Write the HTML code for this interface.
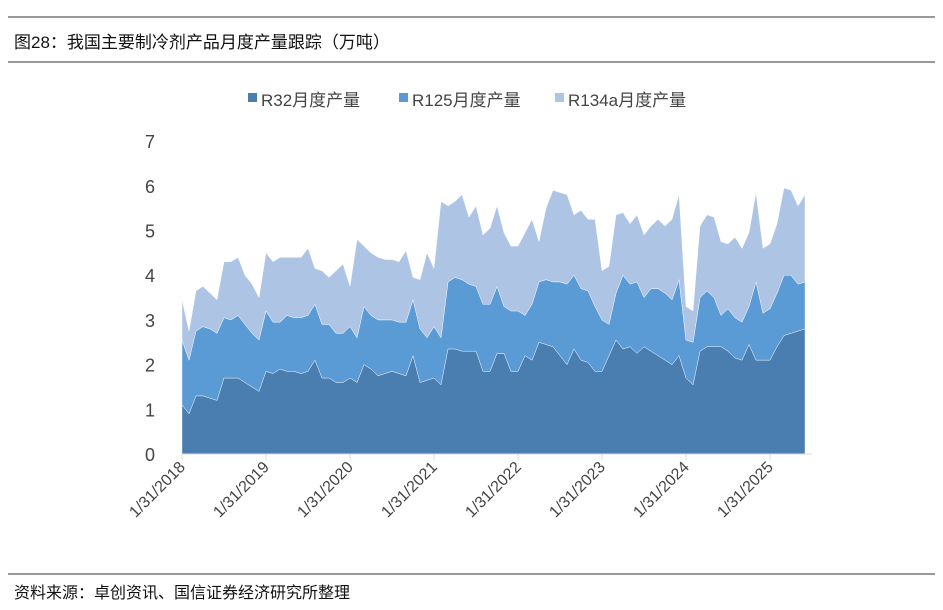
<!DOCTYPE html>
<html><head><meta charset="utf-8">
<style>
body{margin:0;background:#fff;font-family:"Liberation Sans","Noto Sans CJK SC",sans-serif;}
#wrap{position:relative;width:943px;height:610px;overflow:hidden;}
</style></head>
<body>
<div id="wrap">
<svg id="svg" width="943" height="610" xmlns="http://www.w3.org/2000/svg">
  <line x1="8" y1="17" x2="935" y2="17" stroke="#333" stroke-width="1"/>
  <text x="14" y="48" font-size="17" fill="#111" font-family="Liberation Sans, Noto Sans CJK SC, sans-serif">图28：我国主要制冷剂产品月度产量跟踪（万吨）</text>
  <line x1="8" y1="62" x2="935" y2="62" stroke="#333" stroke-width="1"/>
  <line x1="8" y1="574" x2="935" y2="574" stroke="#333" stroke-width="1"/>
  <text x="14" y="598" font-size="16" fill="#111" font-family="Liberation Sans, Noto Sans CJK SC, sans-serif">资料来源：卓创资讯、国信证券经济研究所整理</text>
  <g id="legend"></g>
  <g id="plot"></g>
</svg>
</div>
<script>
const seriesNames=["R32月度产量","R125月度产量","R134a月度产量"];
const colors=["#4a7db0","#5b9bd5","#adc4e4"];
const yTicks=[0,1,2,3,4,5,6,7];
const xTickLabels=["1/31/2018","1/31/2019","1/31/2020","1/31/2021","1/31/2022","1/31/2023","1/31/2024","1/31/2025"];
const r32=[1.1,0.9,1.3,1.3,1.25,1.2,1.7,1.7,1.7,1.6,1.5,1.4,
1.85,1.8,1.9,1.85,1.85,1.8,1.85,2.1,1.7,1.7,1.6,1.6,
1.7,1.6,2.0,1.9,1.75,1.8,1.85,1.8,1.75,2.2,1.6,1.65,
1.7,1.55,2.35,2.35,2.3,2.3,2.3,1.85,1.85,2.25,2.25,1.85,
1.85,2.2,2.1,2.5,2.45,2.4,2.2,2.0,2.35,2.1,2.05,1.85,
1.85,2.2,2.55,2.35,2.4,2.25,2.4,2.3,2.2,2.1,2.0,2.2,
1.7,1.55,2.3,2.4,2.4,2.4,2.3,2.15,2.1,2.45,2.1,2.1,
2.1,2.4,2.65,2.7,2.75,2.8];
const r125=[1.45,1.2,1.45,1.55,1.55,1.5,1.35,1.3,1.4,1.3,1.2,1.15,
1.35,1.15,1.05,1.25,1.2,1.25,1.25,1.25,1.2,1.2,1.1,1.1,
1.15,1.0,1.3,1.2,1.25,1.2,1.15,1.15,1.2,1.25,1.2,0.95,
1.15,1.05,1.5,1.6,1.6,1.5,1.45,1.5,1.5,1.5,1.05,1.35,
1.35,0.9,1.25,1.35,1.45,1.45,1.65,1.8,1.65,1.6,1.6,1.45,
1.15,0.7,1.05,1.65,1.4,1.6,1.1,1.4,1.5,1.5,1.45,1.7,
0.85,0.95,1.2,1.25,1.1,0.7,0.95,0.9,0.85,0.85,1.75,1.05,
1.15,1.2,1.35,1.3,1.05,1.05];
const r134a=[0.9,0.65,0.9,0.9,0.8,0.75,1.25,1.3,1.3,1.1,1.1,0.95,
1.3,1.35,1.45,1.3,1.35,1.35,1.5,0.8,1.2,1.05,1.4,1.55,
0.9,2.2,1.35,1.4,1.4,1.35,1.35,1.35,1.6,0.5,1.1,1.9,
1.3,3.05,1.7,1.7,1.9,1.5,1.8,1.55,1.7,1.8,1.65,1.45,
1.45,1.85,1.9,0.9,1.6,2.05,2.0,2.0,1.35,1.75,1.6,1.95,
1.1,1.3,1.75,1.4,1.35,1.5,1.4,1.4,1.55,1.5,1.8,1.9,
0.75,0.7,1.6,1.7,1.8,1.65,1.45,1.8,1.65,1.65,2.0,1.45,
1.45,1.55,1.95,1.9,1.75,1.95];

const NS="http://www.w3.org/2000/svg";
const x0=182,monthW=7.0,y0=454,unit=44.7;
const xs=i=>x0+i*monthW;
const ys=v=>y0-v*unit;
const plot=document.getElementById('plot');
const legend=document.getElementById('legend');
function mk(tag,attrs,parent){const e=document.createElementNS(NS,tag);for(const k in attrs)e.setAttribute(k,attrs[k]);parent.appendChild(e);return e;}

const series=[r32,r125,r134a];
const n=r32.length;
let base=new Array(n).fill(0);
series.forEach((s,si)=>{
  const top=s.map((v,i)=>base[i]+v);
  let d="M"+xs(0)+","+ys(base[0]);
  for(let i=0;i<n;i++)d+=" L"+xs(i)+","+ys(top[i]);
  for(let i=n-1;i>=0;i--)d+=" L"+xs(i)+","+ys(base[i]);
  d+="Z";
  const p=mk('path',{d:d,fill:colors[si],stroke:"#fff","stroke-width":"0.4"},plot);
  
  
  base=top;
});

// axes
const ax=mk('line',{x1:x0,y1:y0,x2:812,y2:y0,stroke:"#d9d9d9","stroke-width":1},plot);


yTicks.forEach(t=>{
  const tx=mk('text',{x:155,y:ys(t)+7,"font-size":18,fill:"#444","text-anchor":"end"},plot);
  tx.textContent=t;
  
  
});
xTickLabels.forEach((lab,k)=>{
  const x=xs(k*12);
  const tk=mk('line',{x1:x,y1:y0,x2:x,y2:y0+6,stroke:"#d9d9d9"},plot);
  
  
  const tx=mk('text',{x:x+4,y:y0+14,"font-size":16,fill:"#444","text-anchor":"end",transform:"rotate(-45 "+(x+4)+" "+(y0+14)+")"},plot);
  tx.textContent=lab;
  
  
});

// legend
const lx=[248,399,555];
seriesNames.forEach((nm,i)=>{
  const r=mk('rect',{x:lx[i],y:93,width:9,height:9,fill:colors[i]},legend);
  
  
  const t=mk('text',{x:lx[i]+13,y:106,"font-size":17,fill:"#444","font-family":"Liberation Sans, Noto Sans CJK SC, sans-serif"},legend);
  t.textContent=nm;
  
  
});
</script>
</body></html>
